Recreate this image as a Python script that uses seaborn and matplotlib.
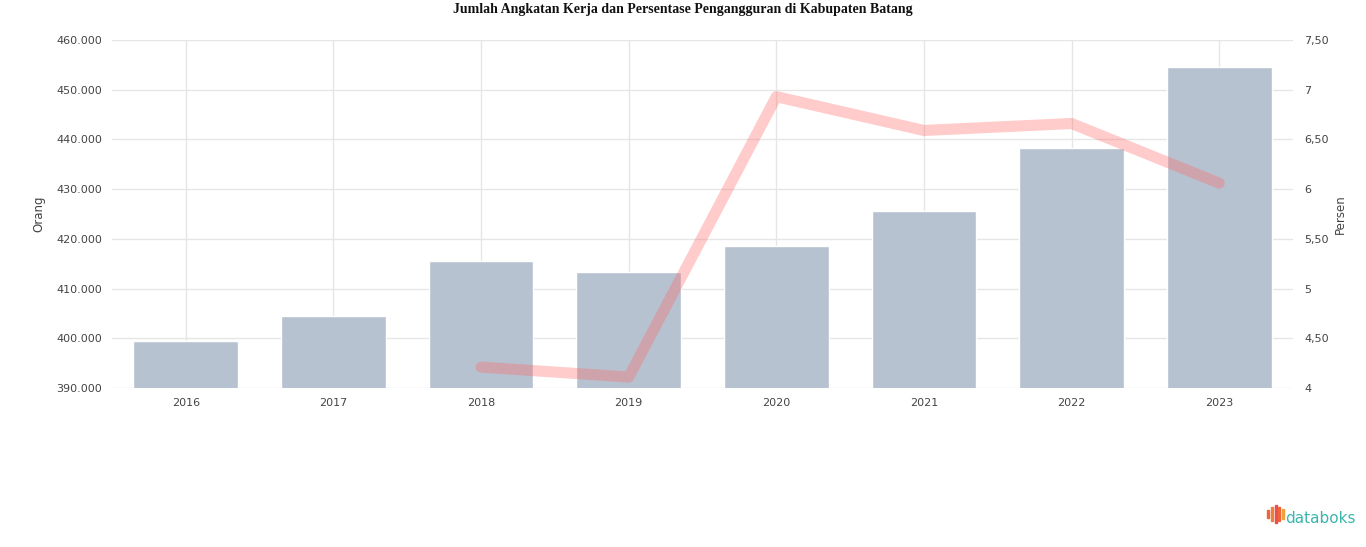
import numpy as np
import pandas as pd
import matplotlib
matplotlib.use("Agg")
import matplotlib.pyplot as plt
import seaborn as sns

# data
tahun = ["2016", "2017", "2018", "2019", "2020", "2021", "2022", "2023"]
angkatan_kerja = [399460, 404490, 415550, 413340, 418570, 425610, 438290, 454590]
pengangguran = [np.nan, np.nan, 4.21, 4.11, 6.93, 6.59, 6.66, 6.06]
kiri_ticks = [390000, 400000, 410000, 420000, 430000, 440000, 450000, 460000]
kanan_ticks = [4, 4.5, 5, 5.5, 6, 6.5, 7, 7.5]

df = pd.DataFrame({"tahun": tahun, "angkatan": angkatan_kerja,
                   "persen": pengangguran, "pos": np.arange(len(tahun))})

sns.set_theme(style="white")
plt.rcParams["font.family"] = ["DejaVu Sans"]

fig = plt.figure(figsize=(13.66, 5.47), dpi=100)
ax = fig.add_axes([0.082, 0.2907, 0.8646, 0.6362])

sns.barplot(data=df, x="tahun", y="angkatan", color="#b6c2cf", saturation=1,
            width=0.71, ax=ax, zorder=3)
ax.set_ylim(kiri_ticks[0], kiri_ticks[-1])
ax.set_yticks(kiri_ticks)
ax.set_yticklabels([f"{v:,}".replace(",", ".") for v in kiri_ticks])
ax.set_xlim(-0.5, len(tahun) - 0.5)
ax.grid(True, color="#e6e6e6", linewidth=1, zorder=0)
ax.set_axisbelow(True)
ax.set_xlabel("")
ax.set_ylabel("Orang", fontsize=8.5, color="#444444", labelpad=8)
for s in ax.spines.values():
    s.set_visible(False)
ax.tick_params(axis="both", labelsize=8, colors="#444444", length=0, pad=7)

ax2 = ax.twinx()
sns.lineplot(data=df, x="pos", y="persen", color="#ff6b6b", alpha=0.35,
             linewidth=8, ax=ax2, zorder=4)
ax2.set_ylim(kanan_ticks[0], kanan_ticks[-1])
ax2.set_yticks(kanan_ticks)
ax2.set_yticklabels([f"{v:g}".replace(".", ",") + ("0" if v % 1 else "") for v in kanan_ticks])
ax2.set_ylabel("Persen", fontsize=8.5, color="#444444", labelpad=4)
ax2.set_xlabel("")
for s in ax2.spines.values():
    s.set_visible(False)
ax2.tick_params(axis="y", labelsize=8, colors="#444444", length=0, pad=8)
ax2.grid(False)

fig.text(0.5, 0.982, "Jumlah Angkatan Kerja dan Persentase Pengangguran di Kabupaten Batang",
         ha="center", va="center", fontsize=10, fontweight="bold",
         family=["Liberation Serif", "DejaVu Serif"], color="#111111")

# logo databoks
bar_h = [0.014, 0.026, 0.032, 0.026, 0.018]
bar_c = ["#f0643c", "#f07f3c", "#ea4e4e", "#f0643c", "#f0a03c"]
for i, (h, c) in enumerate(zip(bar_h, bar_c)):
    fig.patches.append(plt.Rectangle((0.9275 + i * 0.0028, 0.052 - h / 2 + 0.008), 0.0015, h,
                                     transform=fig.transFigure, color=c, figure=fig))
fig.text(0.9410, 0.052, "databoks", fontsize=11, color="#3cb5ad", va="center", ha="left")

fig.savefig("out.png", dpi=100)
